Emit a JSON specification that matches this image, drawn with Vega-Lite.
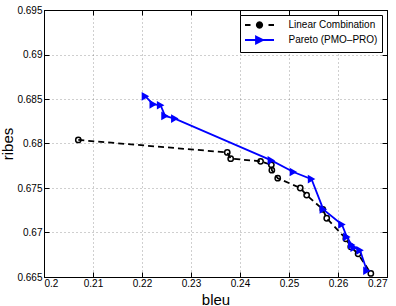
{
  "$schema": "https://vega.github.io/schema/vega-lite/v6.json",
  "width": 343,
  "height": 267,
  "autosize": "none",
  "padding": {"left": 44, "top": 10, "right": 9, "bottom": 29},
  "background": "white",
  "config": {
    "font": "Liberation Sans",
    "view": {"stroke": "black", "strokeWidth": 1},
    "axis": {
      "labelFont": "Liberation Sans",
      "labelFontSize": 10,
      "labelColor": "black",
      "titleFont": "Liberation Sans",
      "titleFontWeight": "normal",
      "titleColor": "black",
      "titleFontSize": 15,
      "domainColor": "black",
      "tickColor": "black",
      "tickSize": -5,
      "gridColor": "#555555",
      "gridOpacity": 0.7,
      "gridDash": [1, 3],
      "gridWidth": 0.8
    },
    "legend": {
      "orient": "top-right",
      "offset": 5,
      "strokeColor": "black",
      "fillColor": "white",
      "padding": 4,
      "labelFont": "Liberation Sans",
      "labelFontSize": 10,
      "labelColor": "black",
      "symbolSize": 100,
      "symbolOffset": 9.5,
      "labelOffset": 23,
      "rowPadding": 0,
      "symbolStrokeWidth": 1.8
    }
  },
  "data": {
    "values": [
      {"series": "Linear Combination", "bleu": 0.2070, "ribes": 0.6804},
      {"series": "Linear Combination", "bleu": 0.2374, "ribes": 0.6790},
      {"series": "Linear Combination", "bleu": 0.2381, "ribes": 0.6783},
      {"series": "Linear Combination", "bleu": 0.2442, "ribes": 0.6780},
      {"series": "Linear Combination", "bleu": 0.2464, "ribes": 0.6776},
      {"series": "Linear Combination", "bleu": 0.2465, "ribes": 0.6770},
      {"series": "Linear Combination", "bleu": 0.2477, "ribes": 0.6761},
      {"series": "Linear Combination", "bleu": 0.2523, "ribes": 0.6750},
      {"series": "Linear Combination", "bleu": 0.2536, "ribes": 0.6742},
      {"series": "Linear Combination", "bleu": 0.2569, "ribes": 0.6726},
      {"series": "Linear Combination", "bleu": 0.2577, "ribes": 0.6716},
      {"series": "Linear Combination", "bleu": 0.2616, "ribes": 0.6693},
      {"series": "Linear Combination", "bleu": 0.2626, "ribes": 0.6684},
      {"series": "Linear Combination", "bleu": 0.2641, "ribes": 0.6676},
      {"series": "Linear Combination", "bleu": 0.2667, "ribes": 0.6654},
      {"series": "Pareto (PMO–PRO)", "bleu": 0.2207, "ribes": 0.6853},
      {"series": "Pareto (PMO–PRO)", "bleu": 0.2223, "ribes": 0.6844},
      {"series": "Pareto (PMO–PRO)", "bleu": 0.2238, "ribes": 0.6843},
      {"series": "Pareto (PMO–PRO)", "bleu": 0.2247, "ribes": 0.6831},
      {"series": "Pareto (PMO–PRO)", "bleu": 0.2267, "ribes": 0.6828},
      {"series": "Pareto (PMO–PRO)", "bleu": 0.2464, "ribes": 0.6781},
      {"series": "Pareto (PMO–PRO)", "bleu": 0.2509, "ribes": 0.6768},
      {"series": "Pareto (PMO–PRO)", "bleu": 0.2546, "ribes": 0.6760},
      {"series": "Pareto (PMO–PRO)", "bleu": 0.2570, "ribes": 0.6726},
      {"series": "Pareto (PMO–PRO)", "bleu": 0.2608, "ribes": 0.6709},
      {"series": "Pareto (PMO–PRO)", "bleu": 0.2618, "ribes": 0.6695},
      {"series": "Pareto (PMO–PRO)", "bleu": 0.2628, "ribes": 0.6686},
      {"series": "Pareto (PMO–PRO)", "bleu": 0.2633, "ribes": 0.6683},
      {"series": "Pareto (PMO–PRO)", "bleu": 0.2645, "ribes": 0.6680},
      {"series": "Pareto (PMO–PRO)", "bleu": 0.2659, "ribes": 0.6657}
    ]
  },
  "layer": [
    {
      "transform": [{"filter": "datum.series === 'Linear Combination'"}],
      "mark": {"type": "line", "strokeWidth": 1.8, "strokeDash": [6, 4], "color": "black", "clip": true},
      "encoding": {
        "x": {
          "field": "bleu", "type": "quantitative",
          "scale": {"domain": [0.2, 0.27], "nice": false, "zero": false},
          "axis": {
            "orient": "bottom", "title": "bleu", "format": ".2~f",
            "values": [0.2, 0.21, 0.22, 0.23, 0.24, 0.25, 0.26, 0.27],
            "labelPadding": 6, "titlePadding": 4, "grid": true
          }
        },
        "y": {
          "field": "ribes", "type": "quantitative",
          "scale": {"domain": [0.665, 0.695], "nice": false, "zero": false},
          "axis": {
            "orient": "left", "title": "ribes", "format": ".3~f",
            "values": [0.665, 0.67, 0.675, 0.68, 0.685, 0.69, 0.695],
            "labelPadding": 7, "titlePadding": 1, "grid": true
          }
        }
      }
    },
    {
      "transform": [{"filter": "datum.series === 'Linear Combination'"}],
      "mark": {"type": "point", "shape": "circle", "size": 28, "strokeWidth": 1.5, "opacity": 1, "filled": false, "color": "black"},
      "encoding": {
        "x": {"field": "bleu", "type": "quantitative", "axis": null},
        "y": {"field": "ribes", "type": "quantitative", "axis": null}
      }
    },
    {
      "transform": [{"filter": "datum.series !== 'Linear Combination'"}],
      "mark": {"type": "line", "strokeWidth": 1.8, "color": "#0000ff", "clip": true},
      "encoding": {
        "x": {"field": "bleu", "type": "quantitative", "axis": null},
        "y": {"field": "ribes", "type": "quantitative", "axis": null}
      }
    },
    {
      "transform": [{"filter": "datum.series !== 'Linear Combination'"}],
      "mark": {"type": "point", "shape": "triangle-right", "size": 75, "strokeWidth": 1, "opacity": 1, "filled": true, "color": "#0000ff"},
      "encoding": {
        "x": {"field": "bleu", "type": "quantitative", "axis": null},
        "y": {"field": "ribes", "type": "quantitative", "axis": null}
      }
    },
    {
      "transform": [{"filter": "false"}],
      "mark": {"type": "point", "filled": true, "opacity": 1},
      "encoding": {
        "x": {"field": "bleu", "type": "quantitative", "axis": null},
        "y": {"field": "ribes", "type": "quantitative", "axis": null},
        "color": {
          "field": "series", "type": "nominal",
          "scale": {"domain": ["Linear Combination", "Pareto (PMO–PRO)"], "range": ["black", "#0000ff"]},
          "legend": {"title": null}
        },
        "stroke": {
          "field": "series", "type": "nominal",
          "scale": {"domain": ["Linear Combination", "Pareto (PMO–PRO)"], "range": ["black", "#0000ff"]},
          "legend": {"title": null}
        },
        "shape": {
          "field": "series", "type": "nominal",
          "scale": {
            "domain": ["Linear Combination", "Pareto (PMO–PRO)"],
            "range": [
              "M-2.9,0L-1.8,0M1.8,0L2.9,0M0.55,0L0.476,0.275L0.275,0.476L0,0.55L-0.275,0.476L-0.476,0.275L-0.55,0L-0.476,-0.275L-0.275,-0.476L0,-0.55L0.275,-0.476L0.476,-0.275Z",
              "M-2.9,0L2.9,0M-0.7,-0.7L0.7,0L-0.7,0.7Z"
            ]
          },
          "legend": {"title": null}
        }
      }
    },
    {
      "mark": {"type": "point", "opacity": 0},
      "encoding": {
        "x": {
          "field": "bleu", "type": "quantitative",
          "axis": {"orient": "top", "labels": false, "title": null, "grid": false,
                   "values": [0.2, 0.21, 0.22, 0.23, 0.24, 0.25, 0.26, 0.27]}
        },
        "y": {
          "field": "ribes", "type": "quantitative",
          "axis": {"orient": "right", "labels": false, "title": null, "grid": false,
                   "values": [0.665, 0.67, 0.675, 0.68, 0.685, 0.69, 0.695]}
        }
      }
    }
  ],
  "resolve": {"axis": {"x": "independent", "y": "independent"}}
}
